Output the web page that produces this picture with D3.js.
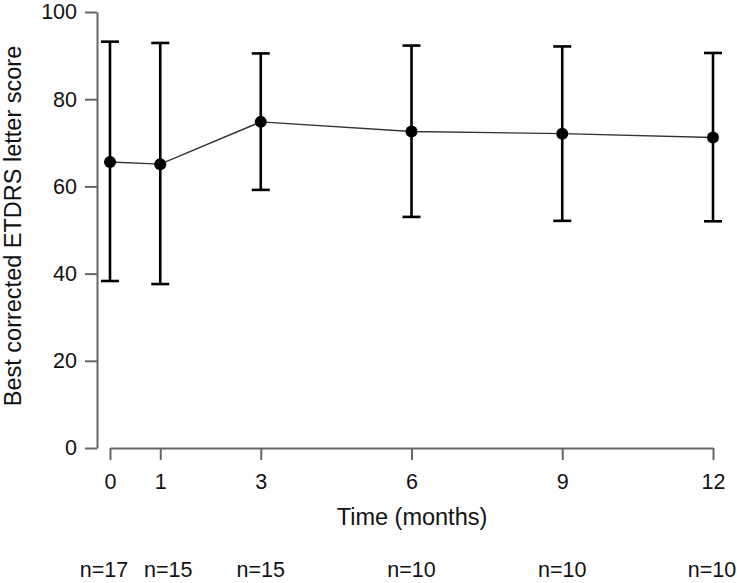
<!DOCTYPE html>
<html>
<head>
<meta charset="utf-8">
<script src="https://cdn.jsdelivr.net/npm/d3@7"></script>
<style>
  body { margin: 0; background: #fff; }
  svg { display: block; }
  text { font-family: "Liberation Sans", Arial, Helvetica, sans-serif; fill: #111; }
</style>
</head>
<body>
<svg id="chart" width="737" height="583"></svg>
<script>
const months = [0, 1, 3, 6, 9, 12];
const means  = [65.6, 65.1, 74.8, 72.6, 72.1, 71.2];
const upper  = [93.2, 92.9, 90.5, 92.3, 92.1, 90.6];
const lower  = [38.3, 37.6, 59.2, 53.0, 52.1, 52.0];
const nLabels = ["n=17", "n=15", "n=15", "n=10", "n=10", "n=10"];
const nOffsets = [-6, 8, 0, 0, 0, -1];
const yTicks = [0, 20, 40, 60, 80, 100];

const svg = d3.select("#chart");
const x = d3.scaleLinear().domain([0, 12]).range([110, 713]);
const y = d3.scaleLinear().domain([0, 100]).range([448, 12]);
const axisColor = "#666";
const font = "Liberation Sans, Arial, sans-serif";

// Y axis
const yAxis = svg.append("g").attr("transform", "translate(97,0)")
  .call(d3.axisLeft(y).tickValues(yTicks).tickSize(12).tickPadding(8).tickSizeOuter(0));
yAxis.select(".domain").attr("stroke", axisColor).attr("stroke-width", 2);
yAxis.selectAll(".tick line").attr("stroke", axisColor).attr("stroke-width", 2);
yAxis.selectAll(".tick text").attr("font-size", 21.5).attr("fill", "#111").attr("font-family", font);

// X axis
const xAxis = svg.append("g").attr("transform", "translate(0,448)")
  .call(d3.axisBottom(x).tickValues(months).tickSize(12).tickPadding(14).tickSizeOuter(0));
xAxis.select(".domain").attr("stroke", axisColor).attr("stroke-width", 2);
xAxis.selectAll(".tick line").attr("stroke", axisColor).attr("stroke-width", 2);
xAxis.selectAll(".tick text").attr("font-size", 21.5).attr("fill", "#111").attr("font-family", font);

// Axis titles
svg.append("text").attr("x", 412).attr("y", 525).attr("text-anchor", "middle")
  .attr("font-size", 23.5).text("Time (months)");
svg.append("text").attr("transform", "translate(21,226) rotate(-90)")
  .attr("text-anchor", "middle").attr("font-size", 23.5)
  .text("Best corrected ETDRS letter score");

const data = months.map((m, i) => ({m, mean: means[i], up: upper[i], lo: lower[i], n: nLabels[i], off: nOffsets[i]}));

// Connecting line
svg.append("path").datum(data)
  .attr("d", d3.line().x(d => x(d.m)).y(d => y(d.mean)))
  .attr("fill", "none").attr("stroke", "#333").attr("stroke-width", 1.4);

// Error bars
const cap = 9;
const eb = svg.append("g").attr("stroke", "#000").attr("stroke-width", 2.6);
eb.selectAll("line.v").data(data).join("line").attr("class", "v")
  .attr("x1", d => x(d.m)).attr("x2", d => x(d.m))
  .attr("y1", d => y(d.up)).attr("y2", d => y(d.lo));
eb.selectAll("line.t").data(data).join("line").attr("class", "t")
  .attr("x1", d => x(d.m) - cap).attr("x2", d => x(d.m) + cap)
  .attr("y1", d => y(d.up)).attr("y2", d => y(d.up));
eb.selectAll("line.b").data(data).join("line").attr("class", "b")
  .attr("x1", d => x(d.m) - cap).attr("x2", d => x(d.m) + cap)
  .attr("y1", d => y(d.lo)).attr("y2", d => y(d.lo));

// Points
svg.selectAll("circle.pt").data(data).join("circle").attr("class", "pt")
  .attr("cx", d => x(d.m)).attr("cy", d => y(d.mean)).attr("r", 6).attr("fill", "#000");

// n labels
svg.selectAll("text.n").data(data).join("text").attr("class", "n")
  .attr("x", d => x(d.m) + d.off).attr("y", 577).attr("text-anchor", "middle")
  .attr("font-size", 21.5).text(d => d.n);
</script>
</body>
</html>
